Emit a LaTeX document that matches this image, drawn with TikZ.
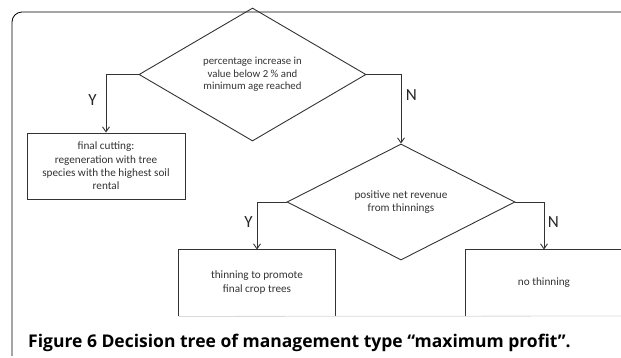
\documentclass[tikz,border=0pt]{standalone}
\usepackage{fontspec}
\setmainfont{Carlito}
\newfontfamily\legendefont{Open Sans}
\usetikzlibrary{shapes.geometric,arrows.meta,positioning}

\begin{document}
\begin{tikzpicture}[x=1pt, y=-1pt,
    losange/.style={diamond, draw=black!80, line width=0.9pt, inner sep=0pt,
      align=center, text=black!80},
    boite/.style={rectangle, draw=black!80, line width=0.9pt, inner sep=0pt,
      align=center, text=black!80},
    fleche/.style={draw=black!80, line width=0.9pt,
      -{Straight Barb[length=5pt,width=7pt]}},
    lettre/.style={inner sep=0pt, text=black!85,
      font=\fontsize{17}{17}\selectfont}]
  \useasboundingbox (0,0) rectangle (621,357);

  % Cadre
  \draw[line width=0.8pt, rounded corners=10pt] (12,356) |- (621,12);

  % Losanges
  \node[losange, minimum width=227pt, minimum height=91pt,
    font=\fontsize{10.8}{12.5}\selectfont] (pct) at (252.5,74.5)
    {percentage increase in\\value below 2 \% and\\minimum age reached};
  \node[losange, minimum width=228pt, minimum height=86pt,
    font=\fontsize{11.2}{13.5}\selectfont] (revenu) at (401,202)
    {positive net revenue\\from thinnings};

  % Boites
  \node[boite, minimum width=158pt, minimum height=66pt,
    font=\fontsize{11.2}{13.3}\selectfont] (coupe) at (106,166)
    {final cutting:\\regeneration with tree\\species with the highest soil\\rental};
  \node[boite, draw=none, minimum width=156pt, minimum height=66pt,
    font=\fontsize{11.2}{14}\selectfont] (eclaircie) at (257,283)
    {thinning to promote\\final crop trees};
  \node[boite, draw=none, minimum width=156pt, minimum height=66pt,
    font=\fontsize{11.2}{14}\selectfont] (rien) at (544,283)
    {no thinning};

  % Boites rognees en bas
  \draw[black!80, line width=0.9pt] (eclaircie.south west) |- (eclaircie.north east)
    -- (eclaircie.south east);
  \draw[black!80, line width=0.9pt] (rien.south west) |- (rien.north east)
    -- (rien.south east);
  \coordinate (bord) at (621,316);
  \draw[black!15, line width=0.8pt] (eclaircie.south west) -- (bord);

  % Fleches
  \draw[fleche] (pct.west) -| node[lettre, pos=0.72, left=9pt] {Y} (coupe.north);
  \draw[fleche] (pct.east) -| node[lettre, pos=0.65, right=4.5pt] {N} (revenu.north);
  \draw[fleche] (revenu.west) -| node[lettre, pos=0.71, left=4pt] {Y} (eclaircie.north);
  \draw[fleche] (revenu.east) -| node[lettre, pos=0.71, right=3.5pt] {N} (rien.north);

  % Legende
  \node[anchor=base west, inner sep=0pt,
    font=\legendefont\bfseries\fontsize{17.5}{20}\selectfont] (legende) at (28,347)
    {Figure 6 Decision tree of management type “maximum profit”.};
\end{tikzpicture}
\end{document}
